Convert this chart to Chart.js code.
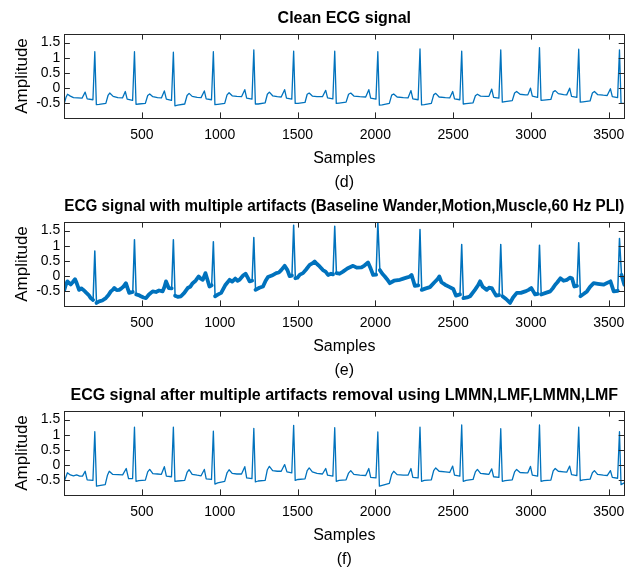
<!DOCTYPE html>
<html>
<head>
<meta charset="utf-8">
<title>ECG signals</title>
<script src="https://cdn.jsdelivr.net/npm/chart.js@4.4.1/dist/chart.umd.min.js"></script>
<style>
  html, body { margin: 0; padding: 0; background: #fff; }
  #wrap { position: relative; width: 641px; height: 569px; overflow: hidden; }
  .panel { position: absolute; left: 0; }
</style>
</head>
<body>
<div id="wrap">
  <canvas class="panel" id="clean" width="641" height="200" style="top:0px"></canvas>
  <canvas class="panel" id="noisy" width="641" height="200" style="top:188px"></canvas>
  <canvas class="panel" id="filtered" width="641" height="200" style="top:377px"></canvas>
</div>
<script>
// ticks
const xTicks = [500, 1000, 1500, 2000, 2500, 3000, 3500];
const yTicks = [-0.5, 0, 0.5, 1, 1.5];

const titles = [
  'Clean ECG signal',
  'ECG signal with multiple artifacts (Baseline Wander,Motion,Muscle,60 Hz PLI)',
  'ECG signal after multiple artifacts removal using LMMN,LMF,LMMN,LMF'
];
const tags = ['(d)', '(e)', '(f)'];

// [sample, amplitude]
const cleanTrace = [
  [1,-0.50],[12,-0.30],[22,-0.20],[40,-0.26],[60,-0.31],[115,-0.33],[135,-0.13],[148,-0.35],[185,-0.38],
  [197,1.20],[207,-0.54],[225,-0.53],[268,-0.50],[282,-0.24],[293,-0.16],[315,-0.27],[345,-0.31],[375,-0.32],[393,-0.11],[405,-0.36],[440,-0.40],
  [452,1.20],[462,-0.53],[480,-0.52],[522,-0.50],[537,-0.24],[550,-0.19],[570,-0.28],[600,-0.31],[625,-0.32],[644,-0.09],[657,-0.36],[690,-0.40],
  [702,1.18],[712,-0.58],[730,-0.56],[775,-0.52],[790,-0.24],[803,-0.17],[823,-0.27],[855,-0.30],[880,-0.31],[901,-0.09],[913,-0.35],[947,-0.38],
  [959,1.20],[969,-0.54],[987,-0.53],[1032,-0.50],[1047,-0.22],[1060,-0.15],[1080,-0.25],[1110,-0.27],[1140,-0.28],[1161,-0.05],[1173,-0.33],[1207,-0.36],
  [1219,1.26],[1229,-0.52],[1247,-0.52],[1292,-0.48],[1306,-0.20],[1319,-0.13],[1340,-0.25],[1370,-0.28],[1395,-0.29],[1417,-0.05],[1429,-0.33],[1463,-0.36],
  [1475,1.22],[1485,-0.50],[1503,-0.50],[1548,-0.47],[1562,-0.20],[1575,-0.16],[1595,-0.26],[1625,-0.28],[1660,-0.28],[1681,-0.07],[1693,-0.32],[1727,-0.35],
  [1739,1.22],[1749,-0.50],[1767,-0.49],[1812,-0.46],[1828,-0.20],[1842,-0.16],[1862,-0.26],[1900,-0.28],[1938,-0.29],[1958,-0.05],[1970,-0.33],[2004,-0.36],
  [2016,1.20],[2026,-0.56],[2044,-0.55],[2090,-0.50],[2105,-0.23],[2118,-0.19],[2140,-0.29],[2180,-0.31],[2210,-0.32],[2229,-0.08],[2241,-0.35],[2275,-0.38],
  [2287,1.29],[2297,-0.55],[2315,-0.54],[2360,-0.50],[2375,-0.22],[2388,-0.17],[2410,-0.29],[2450,-0.31],[2478,-0.32],[2497,-0.11],[2509,-0.35],[2543,-0.38],
  [2555,1.22],[2565,-0.52],[2583,-0.51],[2628,-0.48],[2643,-0.25],[2656,-0.20],[2676,-0.26],[2710,-0.27],[2730,-0.27],[2748,-0.03],[2760,-0.30],[2794,-0.33],
  [2806,1.26],[2816,-0.46],[2834,-0.44],[2880,-0.41],[2895,-0.16],[2908,-0.11],[2930,-0.20],[2965,-0.22],[2980,-0.22],[2997,0.00],[3009,-0.26],[3043,-0.30],
  [3055,1.33],[3065,-0.40],[3083,-0.39],[3128,-0.37],[3143,-0.12],[3156,-0.08],[3176,-0.18],[3210,-0.21],[3230,-0.22],[3249,0.00],[3261,-0.27],[3295,-0.30],
  [3307,1.28],[3317,-0.46],[3335,-0.45],[3380,-0.42],[3395,-0.16],[3408,-0.11],[3428,-0.21],[3465,-0.23],[3490,-0.24],[3511,-0.02],[3523,-0.28],[3557,-0.31],
  [3569,1.26],[3579,-0.49],[3600,-0.50]
];

const noisyTrace = [
  [1,-0.45],[10,-0.30],[21,-0.17],[32,-0.22],[42,-0.27],[55,-0.20],[70,-0.10],[80,-0.22],[96,-0.45],[110,-0.40],[128,-0.47],[143,-0.55],[158,-0.62],[171,-0.72],[186,-0.78],
  [197,0.83],[208,-0.88],[225,-0.83],[245,-0.80],[268,-0.72],[285,-0.62],[300,-0.50],[312,-0.45],[322,-0.39],[338,-0.46],[354,-0.45],[368,-0.40],[380,-0.35],[397,-0.23],[408,-0.40],[418,-0.55],[441,-0.52],
  [452,1.20],[463,-0.60],[478,-0.62],[493,-0.66],[510,-0.70],[526,-0.72],[545,-0.60],[569,-0.50],[590,-0.52],[610,-0.47],[633,-0.50],[645,-0.35],[655,-0.17],[672,-0.39],[691,-0.40],
  [702,1.20],[713,-0.64],[730,-0.68],[751,-0.66],[772,-0.55],[794,-0.39],[810,-0.35],[826,-0.23],[845,-0.15],[865,-0.01],[878,-0.08],[891,-0.12],[908,0.10],[920,-0.10],[934,-0.34],[948,-0.30],
  [959,1.13],[970,-0.66],[990,-0.60],[1009,-0.55],[1035,-0.30],[1063,-0.12],[1080,-0.18],[1100,-0.08],[1115,-0.15],[1127,-0.12],[1150,0.02],[1166,0.08],[1180,-0.05],[1192,-0.17],[1208,-0.15],
  [1219,1.27],[1230,-0.45],[1255,-0.38],[1278,-0.34],[1295,-0.15],[1310,-0.03],[1335,0.02],[1363,0.10],[1380,0.12],[1395,0.20],[1417,0.34],[1435,0.20],[1449,0.00],[1464,0.02],
  [1475,1.67],[1486,-0.07],[1499,-0.05],[1515,0.05],[1535,0.10],[1555,0.22],[1578,0.37],[1595,0.42],[1610,0.48],[1625,0.40],[1642,0.32],[1663,0.20],[1680,0.15],[1696,0.04],[1715,0.08],[1728,0.06],
  [1739,1.64],[1750,0.10],[1770,0.08],[1792,0.15],[1820,0.25],[1857,0.34],[1880,0.28],[1911,0.29],[1930,0.35],[1953,0.45],[1970,0.25],[1986,0.04],[2005,0.05],
  [2016,1.78],[2029,0.20],[2045,0.08],[2061,-0.01],[2075,-0.10],[2093,-0.23],[2120,-0.15],[2158,-0.12],[2180,-0.08],[2200,-0.05],[2220,-0.02],[2233,0.04],[2254,-0.32],[2276,-0.30],
  [2287,1.53],[2298,-0.45],[2325,-0.40],[2351,-0.36],[2380,-0.20],[2400,-0.10],[2411,-0.01],[2425,-0.20],[2448,-0.28],[2475,-0.35],[2501,-0.42],[2518,-0.64],[2544,-0.60],
  [2555,1.04],[2566,-0.72],[2590,-0.70],[2609,-0.66],[2640,-0.45],[2660,-0.30],[2673,-0.17],[2690,-0.35],[2716,-0.45],[2730,-0.38],[2748,-0.39],[2760,-0.50],[2776,-0.64],[2795,-0.62],
  [2806,1.04],[2817,-0.66],[2840,-0.75],[2866,-0.88],[2885,-0.70],[2909,-0.55],[2935,-0.55],[2963,-0.50],[2985,-0.45],[3002,-0.39],[3015,-0.50],[3027,-0.60],[3044,-0.58],
  [3055,1.02],[3066,-0.60],[3095,-0.55],[3124,-0.50],[3140,-0.40],[3156,-0.28],[3170,-0.20],[3189,-0.07],[3210,-0.15],[3232,-0.12],[3250,-0.05],[3264,-0.07],[3279,-0.34],[3296,-0.32],
  [3307,1.10],[3318,-0.66],[3340,-0.58],[3360,-0.50],[3380,-0.35],[3403,-0.23],[3430,-0.25],[3468,-0.28],[3490,-0.22],[3511,-0.17],[3532,-0.50],[3558,-0.48],
  [3569,1.24],[3582,0.04],[3600,-0.28]
];

const filteredTrace = [
  [1,-0.53],[21,-0.25],[40,-0.32],[60,-0.35],[80,-0.32],[100,-0.36],[118,-0.36],[135,-0.20],[148,-0.48],[185,-0.50],
  [197,1.10],[208,-0.69],[225,-0.67],[264,-0.64],[279,-0.32],[290,-0.20],[311,-0.30],[345,-0.31],[376,-0.32],[399,-0.11],[414,-0.44],[440,-0.44],
  [452,1.25],[462,-0.53],[480,-0.51],[522,-0.49],[537,-0.22],[550,-0.14],[570,-0.28],[600,-0.29],[625,-0.30],[644,-0.05],[657,-0.36],[690,-0.38],
  [702,1.25],[712,-0.53],[730,-0.52],[775,-0.50],[790,-0.24],[803,-0.15],[823,-0.30],[855,-0.33],[880,-0.35],[901,-0.14],[913,-0.45],[947,-0.47],
  [959,1.12],[969,-0.62],[987,-0.58],[1032,-0.53],[1047,-0.25],[1060,-0.15],[1080,-0.27],[1110,-0.29],[1140,-0.29],[1161,-0.05],[1173,-0.42],[1207,-0.44],
  [1219,1.21],[1229,-0.55],[1247,-0.52],[1292,-0.50],[1306,-0.15],[1319,-0.04],[1340,-0.18],[1370,-0.20],[1395,-0.20],[1417,0.02],[1432,-0.22],[1463,-0.25],
  [1475,1.31],[1485,-0.50],[1503,-0.47],[1548,-0.45],[1562,-0.18],[1575,-0.09],[1595,-0.22],[1625,-0.27],[1660,-0.29],[1681,-0.11],[1693,-0.33],[1727,-0.36],
  [1739,1.23],[1749,-0.53],[1767,-0.50],[1812,-0.48],[1828,-0.26],[1842,-0.18],[1862,-0.30],[1900,-0.33],[1938,-0.34],[1958,-0.11],[1970,-0.40],[2004,-0.42],
  [2016,1.09],[2026,-0.69],[2044,-0.66],[2090,-0.60],[2105,-0.30],[2118,-0.20],[2140,-0.31],[2180,-0.33],[2210,-0.33],[2229,-0.11],[2241,-0.40],[2275,-0.42],
  [2287,1.25],[2297,-0.53],[2315,-0.50],[2360,-0.48],[2375,-0.18],[2388,-0.09],[2410,-0.20],[2450,-0.22],[2478,-0.24],[2497,-0.03],[2509,-0.33],[2543,-0.36],
  [2555,1.32],[2565,-0.53],[2583,-0.50],[2628,-0.47],[2643,-0.22],[2656,-0.14],[2676,-0.27],[2710,-0.29],[2730,-0.30],[2748,-0.12],[2760,-0.38],[2794,-0.40],
  [2806,1.20],[2816,-0.53],[2834,-0.51],[2880,-0.48],[2895,-0.22],[2908,-0.14],[2930,-0.24],[2965,-0.25],[2980,-0.25],[2997,-0.04],[3009,-0.33],[3043,-0.36],
  [3055,1.32],[3065,-0.53],[3083,-0.51],[3128,-0.49],[3143,-0.19],[3156,-0.11],[3176,-0.20],[3210,-0.22],[3230,-0.23],[3249,-0.03],[3261,-0.31],[3295,-0.34],
  [3307,1.25],[3317,-0.51],[3335,-0.48],[3380,-0.46],[3395,-0.25],[3408,-0.18],[3428,-0.30],[3465,-0.33],[3490,-0.34],[3511,-0.18],[3523,-0.40],[3557,-0.43],
  [3569,1.10],[3579,-0.64],[3600,-0.58]
];

const FONT = "'Liberation Sans', Arial, Helvetica, sans-serif";
Chart.defaults.font.family = FONT;
Chart.defaults.color = '#000';

// matlab style box + inward ticks
const axesBox = {
  id: 'axesBox',
  afterDatasetsDraw(chart) {
    const { ctx, chartArea, scales } = chart;
    const { left, right, top, bottom } = chartArea;
    const len = 5.6;
    ctx.save();
    ctx.strokeStyle = '#262626';
    ctx.lineWidth = 1;
    ctx.beginPath();
    scales.x.ticks.forEach(t => {
      const px = Math.round(scales.x.getPixelForValue(t.value)) + 0.5;
      ctx.moveTo(px, bottom); ctx.lineTo(px, bottom - len);
      ctx.moveTo(px, top); ctx.lineTo(px, top + len);
    });
    scales.y.ticks.forEach(t => {
      const py = Math.round(scales.y.getPixelForValue(t.value)) + 0.5;
      ctx.moveTo(left, py); ctx.lineTo(left + len, py);
      ctx.moveTo(right, py); ctx.lineTo(right - len, py);
    });
    ctx.stroke();
    ctx.strokeRect(Math.round(left) + 0.5, Math.round(top) + 0.5, Math.round(right - left), Math.round(bottom - top));
    ctx.restore();
  }
};

function makePanel(id, trace, title, tag, noisy) {
  const ds = {
    data: trace.map(p => ({ x: p[0], y: p[1] })),
    borderColor: '#0072BD',
    borderWidth: 1.3,
    pointRadius: 0,
    tension: 0,
    borderJoinStyle: 'round',
    borderCapStyle: 'round'
  };
  if (noisy) {
    // steep QRS strokes stay thin, the noisy baseline shows as a band
    ds.segment = {
      borderWidth: c => Math.abs(c.p1.y - c.p0.y) > 6 * Math.abs(c.p1.x - c.p0.x) ? 1.5 : 3.8
    };
  }
  return new Chart(document.getElementById(id), {
    type: 'line',
    data: { datasets: [ds] },
    options: {
      responsive: false,
      animation: false,
      devicePixelRatio: 1,
      layout: { padding: { left: 0, right: 16.7, top: 0, bottom: 7.4 } },
      plugins: {
        legend: { display: false },
        tooltip: { enabled: false },
        title: {
          display: true, text: title, fullSize: false, color: '#000',
          font: { size: 16, weight: 'bold' },
          padding: { top: 9, bottom: 5.8 }
        },
        subtitle: {
          display: true, text: tag, position: 'bottom', fullSize: false, color: '#000',
          font: { size: 16 },
          padding: { top: 3.4, bottom: 0 }
        }
      },
      scales: {
        x: {
          type: 'linear', min: 1, max: 3600,
          grid: { display: false, drawTicks: false }, border: { display: false },
          afterBuildTicks: a => { a.ticks = xTicks.map(v => ({ value: v })); },
          ticks: { font: { size: 14 }, color: '#000', padding: 9, maxRotation: 0, autoSkip: false, callback: v => String(v) },
          title: { display: true, text: 'Samples', color: '#000', font: { size: 16 }, padding: { top: 0, bottom: 1.4 } },
          afterFit: s => { s.height = 52; }
        },
        y: {
          type: 'linear', min: -0.98, max: 1.78,
          grid: { display: false, drawTicks: false }, border: { display: false },
          afterBuildTicks: a => { a.ticks = yTicks.map(v => ({ value: v })); },
          ticks: { font: { size: 14 }, color: '#000', padding: 4, callback: v => String(v) },
          title: { display: true, text: 'Amplitude', color: '#000', font: { size: 17 }, padding: { top: 12, bottom: 0 } },
          afterFit: s => { s.width = 64.3; }
        }
      }
    },
    plugins: [axesBox]
  });
}

makePanel('clean', cleanTrace, titles[0], tags[0], false);
makePanel('noisy', noisyTrace, titles[1], tags[1], true);
makePanel('filtered', filteredTrace, titles[2], tags[2], false);
</script>
</body>
</html>
